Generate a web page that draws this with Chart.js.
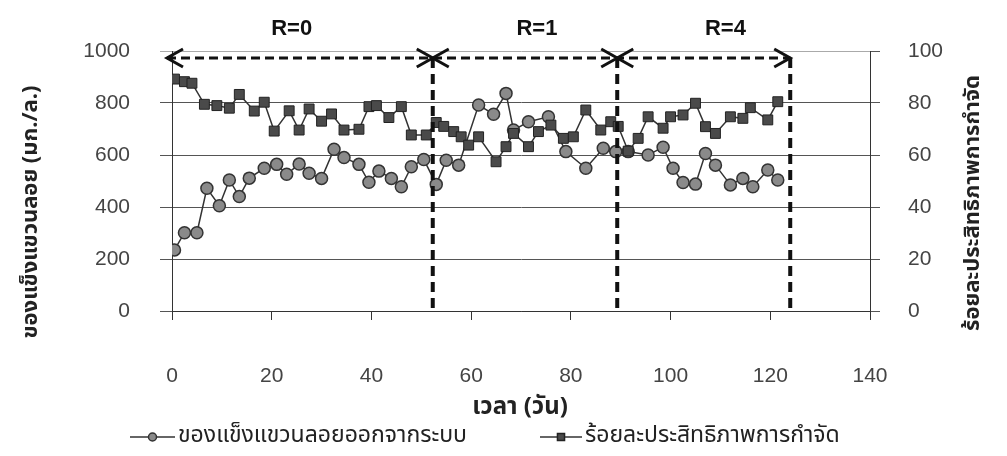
<!DOCTYPE html>
<html>
<head>
<meta charset="utf-8">
<script src="https://cdn.jsdelivr.net/npm/chart.js@4/dist/chart.umd.min.js"></script>
<style>
body { margin: 0; background: #fff; }
#wrap { width: 1007px; height: 456px; }
</style>
</head>
<body>
<div id="wrap"><canvas id="chart" width="1007" height="456"></canvas></div>
<script>
// suspended solids leaving the system (mg/L), left axis
var ssDays = [0.5, 2.5, 5, 7, 9.5, 11.5, 13.5, 15.5, 18.5, 21, 23, 25.5, 27.5, 30, 32.5, 34.5, 37.5, 39.5, 41.5, 44, 46, 48, 50.5, 53, 55,
    57.5, 61.5, 64.5, 67, 68.5, 71.5, 75.5, 79, 83, 86.5, 89, 91.5, 95.5, 98.5, 100.5, 102.5, 105, 107, 109, 112, 114.5, 116.5, 119.5, 121.5]
var ssValues = [235, 301, 301, 472, 405, 504, 440, 511, 549, 564, 526, 565, 530, 510, 622, 590, 564, 495, 538, 510, 478, 555, 583, 487, 580,
    561, 792, 757, 837, 696, 728, 747, 613, 549, 626, 613, 613, 600, 630, 549, 494, 488, 606, 561, 485, 510, 478, 542, 504]

// removal efficiency (%), right axis
var effDays = [0.5, 2.5, 4, 6.5, 9, 11.5, 13.5, 16.5, 18.5, 20.5, 23.5, 25.5, 27.5, 30, 32, 34.5, 37.5, 39.5, 41, 43.5, 46, 48, 51, 53, 54.5,
    56.5, 58, 59.5, 61.5, 65, 67, 68.5, 71.5, 73.5, 76, 78.5, 80.5, 83, 86, 88, 89.5,
    91.5, 93.5, 95.5, 98.5, 100, 102.5, 105, 107, 109, 112, 114.5, 116, 119.5, 121.5]
var effValues = [89.2, 88.2, 87.6, 79.5, 79, 78, 83.3, 76.9, 80.3, 69.2, 77, 69.6, 77.7, 73, 75.8, 69.6, 69.9, 78.6, 79, 74.4, 78.6, 67.7, 67.7, 72.5, 71,
    69, 67, 63.8, 67, 57.4, 63.2, 68.3, 63.2, 69, 71.5, 66.4, 67, 77.3, 69.6, 72.8, 71,
    61.5, 66.4, 74.7, 70.3, 74.7, 75.4, 79.9, 70.9, 68.3, 74.7, 74.1, 78.2, 73.5, 80.5]

var xTicks = [0, 20, 40, 60, 80, 100, 120, 140]
var leftTicks = [0, 200, 400, 600, 800, 1000]
var rightTicks = [0, 20, 40, 60, 80, 100]

var phaseNames = ['R=0', 'R=1', 'R=4']
var phaseLabelDays = [24, 73.2, 111]
var phaseEnds = [52.3, 89.3, 124]
var arrowLevel = 973

var ssLabel = 'ของแข็งแขวนลอยออกจากระบบ'
var effLabel = 'ร้อยละประสิทธิภาพการกำจัด'
var xTitle = 'เวลา (วัน)'
var leftTitle = 'ของแข็งแขวนลอย (มก./ล.)'
var rightTitle = 'ร้อยละประสิทธิภาพการกำจัด'

var thaiFont = '"Noto Sans Thai", "Loma", "Garuda", "Noto Sans", sans-serif'
var numFont = '"Liberation Sans", Arial, sans-serif'

function toPoints(xs, ys) {
    return xs.map((x, i) => ({ x: x, y: ys[i] }))
}

function chevron(ctx, x, y, dir) {
    // dir = -1 points left, 1 points right
    ctx.beginPath()
    ctx.moveTo(x - dir * 16, y - 9)
    ctx.lineTo(x, y)
    ctx.lineTo(x - dir * 16, y + 9)
    ctx.stroke()
}

var decorations = {
    id: 'decorations',
    afterDatasetsDraw(chart) {
        var ctx = chart.ctx
        var xs = chart.scales.x
        var ys = chart.scales.y
        var area = chart.chartArea
        var ay = ys.getPixelForValue(arrowLevel)
        var x0 = xs.getPixelForValue(0) - 5
        ctx.save()
        ctx.strokeStyle = '#111'
        // vertical phase dividers
        ctx.lineWidth = 4
        ctx.setLineDash([10, 6])
        phaseEnds.forEach(d => {
            var px = xs.getPixelForValue(d)
            ctx.beginPath()
            ctx.moveTo(px, ay)
            ctx.lineTo(px, area.bottom)
            ctx.stroke()
        })
        // horizontal arrow line
        ctx.lineWidth = 3
        ctx.setLineDash([9, 5])
        ctx.beginPath()
        ctx.moveTo(x0, ay)
        ctx.lineTo(xs.getPixelForValue(phaseEnds[2]), ay)
        ctx.stroke()
        ctx.setLineDash([])
        ctx.lineWidth = 3
        chevron(ctx, x0, ay, -1)
        phaseEnds.forEach((d, i) => {
            var px = xs.getPixelForValue(d)
            chevron(ctx, px, ay, 1)
            if (i < phaseEnds.length - 1) chevron(ctx, px, ay, -1)
        })
        // phase names
        ctx.fillStyle = '#111'
        ctx.font = 'bold 22px ' + numFont
        ctx.textAlign = 'center'
        ctx.textBaseline = 'middle'
        phaseNames.forEach((n, i) => {
            ctx.fillText(n, xs.getPixelForValue(phaseLabelDays[i]), 29)
        })
        ctx.restore()
    },
    afterDraw(chart) {
        var ctx = chart.ctx
        var ds = chart.data.datasets
        ctx.save()
        ctx.fillStyle = '#222'
        ctx.textBaseline = 'middle'
        // x title
        ctx.font = 'bold 24px ' + thaiFont
        ctx.textAlign = 'center'
        ctx.fillText(xTitle, 520, 409)
        // y titles
        ctx.font = 'bold 22px ' + thaiFont
        ctx.save()
        ctx.translate(33, 212)
        ctx.rotate(-Math.PI / 2)
        ctx.fillText(leftTitle, 0, 0, 305)
        ctx.restore()
        ctx.save()
        ctx.translate(975, 203)
        ctx.rotate(-Math.PI / 2)
        ctx.fillText(rightTitle, 0, 0, 305)
        ctx.restore()
        // legend
        var items = [
            { lx: 130, rx: 175, tx: 178, w: 292, d: ds[1] },
            { lx: 540, rx: 582, tx: 585, w: 295, d: ds[0] }
        ]
        var ly = 437
        items.forEach(it => {
            ctx.strokeStyle = it.d.borderColor
            ctx.lineWidth = 1.5
            ctx.beginPath()
            ctx.moveTo(it.lx, ly)
            ctx.lineTo(it.rx, ly)
            ctx.stroke()
            ctx.fillStyle = it.d.pointBackgroundColor
            ctx.strokeStyle = it.d.pointBorderColor
            Chart.helpers.drawPoint(ctx, { pointStyle: it.d.pointStyle, radius: it.d.pointRadius - 2, borderWidth: 1 }, (it.lx + it.rx) / 2, ly)
            ctx.fillStyle = '#222'
            ctx.font = '23px ' + thaiFont
            ctx.textAlign = 'left'
            ctx.fillText(it.d.label, it.tx, ly, it.w)
        })
        ctx.restore()
    }
}

document.addEventListener('DOMContentLoaded', () => {
    var ctx = document.getElementById('chart').getContext('2d')
    var plain = v => String(v)
    new Chart(ctx, {
        type: 'line',
        data: {
            datasets: [{
                label: effLabel,
                data: toPoints(effDays, effValues),
                yAxisID: 'y1',
                borderColor: '#333',
                borderWidth: 1.5,
                pointStyle: 'rect',
                pointRadius: 7,
                pointBackgroundColor: '#4a4a4a',
                pointBorderColor: '#222',
                pointBorderWidth: 1,
                tension: 0,
                order: 0
            }, {
                label: ssLabel,
                data: toPoints(ssDays, ssValues),
                yAxisID: 'y',
                borderColor: '#333',
                borderWidth: 1.5,
                pointStyle: 'circle',
                pointRadius: 6,
                pointBackgroundColor: '#8a8a8a',
                pointBorderColor: '#333',
                pointBorderWidth: 1.5,
                tension: 0,
                order: 1
            }]
        },
        options: {
            responsive: false,
            animation: false,
            layout: { padding: { top: 51, left: 0, right: 0, bottom: 0 } },
            plugins: {
                legend: { display: false },
                tooltip: { enabled: false }
            },
            scales: {
                x: {
                    type: 'linear',
                    min: 0,
                    max: 140,
                    afterBuildTicks: s => { s.ticks = xTicks.map(v => ({ value: v })) },
                    afterFit: s => { s.height = 145 },
                    grid: { drawOnChartArea: false, drawTicks: true, tickLength: 9, color: '#333' },
                    border: { display: true, color: '#333', width: 1 },
                    ticks: { padding: 44, color: '#444', callback: plain, font: { family: numFont, size: 21 } }
                },
                y: {
                    position: 'left',
                    min: 0,
                    max: 1000,
                    afterBuildTicks: s => { s.ticks = leftTicks.map(v => ({ value: v })) },
                    afterFit: s => { s.width = 172 },
                    grid: {
                        color: c => c.tick && c.tick.value === 1000 ? '#aaa' : '#555',
                        tickLength: 12,
                        lineWidth: 1
                    },
                    border: { display: true, color: '#333', width: 1 },
                    ticks: { padding: 30, color: '#444', callback: plain, font: { family: numFont, size: 21 } }
                },
                y1: {
                    position: 'right',
                    min: 0,
                    max: 100,
                    afterBuildTicks: s => { s.ticks = rightTicks.map(v => ({ value: v })) },
                    afterFit: s => { s.width = 137 },
                    grid: { drawOnChartArea: false, tickLength: 10, color: '#555' },
                    border: { display: true, color: '#333', width: 1 },
                    ticks: { padding: 28, color: '#444', callback: plain, font: { family: numFont, size: 21 } }
                }
            }
        },
        plugins: [decorations]
    })
})
</script>
</body>
</html>
